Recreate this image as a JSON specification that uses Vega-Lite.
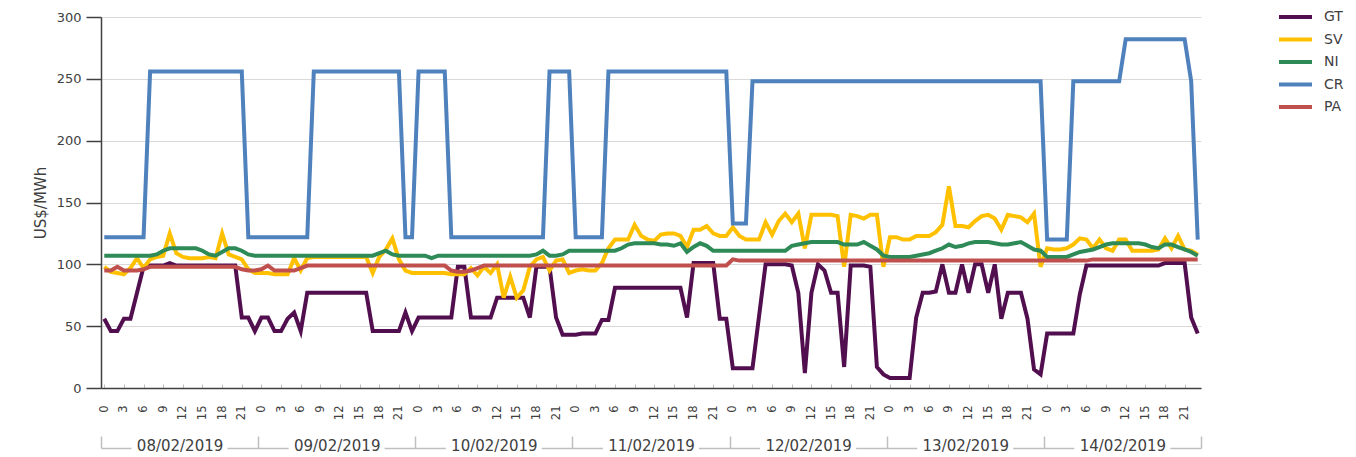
{
"$schema": "https://vega.github.io/schema/vega-lite/v6.json",
"width": 1100, "height": 371,
"autosize": {"type": "none"},
"padding": {"left": 101, "top": 17, "right": 155, "bottom": 69},
"background": "white",
"config": {"font": "DejaVu Sans", "view": {"stroke": null}},
"data": {"values": [
{"i":0,"GT":56,"SV":98,"NI":107,"CR":122,"PA":95},
{"i":1,"GT":46,"SV":94,"NI":107,"CR":122,"PA":95},
{"i":2,"GT":46,"SV":93,"NI":107,"CR":122,"PA":98},
{"i":3,"GT":56,"SV":92,"NI":107,"CR":122,"PA":95},
{"i":4,"GT":56,"SV":97,"NI":107,"CR":122,"PA":95},
{"i":5,"GT":77,"SV":105,"NI":107,"CR":122,"PA":95},
{"i":6,"GT":98,"SV":97,"NI":107,"CR":122,"PA":96},
{"i":7,"GT":99,"SV":104,"NI":107,"CR":256,"PA":98},
{"i":8,"GT":99,"SV":106,"NI":108,"CR":256,"PA":98},
{"i":9,"GT":99,"SV":107,"NI":111,"CR":256,"PA":98},
{"i":10,"GT":101,"SV":125,"NI":113,"CR":256,"PA":98},
{"i":11,"GT":99,"SV":109,"NI":113,"CR":256,"PA":98},
{"i":12,"GT":99,"SV":106,"NI":113,"CR":256,"PA":98},
{"i":13,"GT":99,"SV":105,"NI":113,"CR":256,"PA":98},
{"i":14,"GT":99,"SV":105,"NI":113,"CR":256,"PA":98},
{"i":15,"GT":99,"SV":105,"NI":111,"CR":256,"PA":98},
{"i":16,"GT":99,"SV":106,"NI":108,"CR":256,"PA":98},
{"i":17,"GT":99,"SV":105,"NI":107,"CR":256,"PA":98},
{"i":18,"GT":99,"SV":125,"NI":110,"CR":256,"PA":98},
{"i":19,"GT":99,"SV":108,"NI":113,"CR":256,"PA":98},
{"i":20,"GT":99,"SV":106,"NI":113,"CR":256,"PA":98},
{"i":21,"GT":57,"SV":104,"NI":111,"CR":256,"PA":96},
{"i":22,"GT":57,"SV":96,"NI":108,"CR":122,"PA":95},
{"i":23,"GT":46,"SV":93,"NI":107,"CR":122,"PA":95},
{"i":24,"GT":57,"SV":93,"NI":107,"CR":122,"PA":96},
{"i":25,"GT":57,"SV":93,"NI":107,"CR":122,"PA":99},
{"i":26,"GT":46,"SV":92,"NI":107,"CR":122,"PA":95},
{"i":27,"GT":46,"SV":92,"NI":107,"CR":122,"PA":95},
{"i":28,"GT":56,"SV":92,"NI":107,"CR":122,"PA":95},
{"i":29,"GT":61,"SV":105,"NI":107,"CR":122,"PA":95},
{"i":30,"GT":46,"SV":95,"NI":107,"CR":122,"PA":97},
{"i":31,"GT":77,"SV":105,"NI":107,"CR":122,"PA":99},
{"i":32,"GT":77,"SV":106,"NI":107,"CR":256,"PA":99},
{"i":33,"GT":77,"SV":106,"NI":107,"CR":256,"PA":99},
{"i":34,"GT":77,"SV":106,"NI":107,"CR":256,"PA":99},
{"i":35,"GT":77,"SV":106,"NI":107,"CR":256,"PA":99},
{"i":36,"GT":77,"SV":106,"NI":107,"CR":256,"PA":99},
{"i":37,"GT":77,"SV":106,"NI":107,"CR":256,"PA":99},
{"i":38,"GT":77,"SV":106,"NI":107,"CR":256,"PA":99},
{"i":39,"GT":77,"SV":106,"NI":107,"CR":256,"PA":99},
{"i":40,"GT":77,"SV":106,"NI":107,"CR":256,"PA":99},
{"i":41,"GT":46,"SV":93,"NI":107,"CR":256,"PA":99},
{"i":42,"GT":46,"SV":106,"NI":109,"CR":256,"PA":99},
{"i":43,"GT":46,"SV":112,"NI":111,"CR":256,"PA":99},
{"i":44,"GT":46,"SV":121,"NI":108,"CR":256,"PA":99},
{"i":45,"GT":46,"SV":104,"NI":107,"CR":256,"PA":99},
{"i":46,"GT":61,"SV":95,"NI":107,"CR":122,"PA":99},
{"i":47,"GT":46,"SV":93,"NI":107,"CR":122,"PA":99},
{"i":48,"GT":57,"SV":93,"NI":107,"CR":256,"PA":99},
{"i":49,"GT":57,"SV":93,"NI":107,"CR":256,"PA":99},
{"i":50,"GT":57,"SV":93,"NI":105,"CR":256,"PA":99},
{"i":51,"GT":57,"SV":93,"NI":107,"CR":256,"PA":99},
{"i":52,"GT":57,"SV":93,"NI":107,"CR":256,"PA":99},
{"i":53,"GT":57,"SV":92,"NI":107,"CR":122,"PA":95},
{"i":54,"GT":98,"SV":92,"NI":107,"CR":122,"PA":94},
{"i":55,"GT":98,"SV":92,"NI":107,"CR":122,"PA":94},
{"i":56,"GT":57,"SV":97,"NI":107,"CR":122,"PA":95},
{"i":57,"GT":57,"SV":91,"NI":107,"CR":122,"PA":97},
{"i":58,"GT":57,"SV":98,"NI":107,"CR":122,"PA":99},
{"i":59,"GT":57,"SV":93,"NI":107,"CR":122,"PA":99},
{"i":60,"GT":73,"SV":100,"NI":107,"CR":122,"PA":99},
{"i":61,"GT":73,"SV":73,"NI":107,"CR":122,"PA":99},
{"i":62,"GT":73,"SV":90,"NI":107,"CR":122,"PA":99},
{"i":63,"GT":73,"SV":73,"NI":107,"CR":122,"PA":99},
{"i":64,"GT":73,"SV":79,"NI":107,"CR":122,"PA":99},
{"i":65,"GT":57,"SV":98,"NI":107,"CR":122,"PA":99},
{"i":66,"GT":98,"SV":104,"NI":108,"CR":122,"PA":99},
{"i":67,"GT":98,"SV":106,"NI":111,"CR":122,"PA":99},
{"i":68,"GT":98,"SV":95,"NI":107,"CR":256,"PA":99},
{"i":69,"GT":57,"SV":103,"NI":107,"CR":256,"PA":99},
{"i":70,"GT":43,"SV":104,"NI":108,"CR":256,"PA":99},
{"i":71,"GT":43,"SV":93,"NI":111,"CR":256,"PA":99},
{"i":72,"GT":43,"SV":95,"NI":111,"CR":122,"PA":99},
{"i":73,"GT":44,"SV":96,"NI":111,"CR":122,"PA":99},
{"i":74,"GT":44,"SV":95,"NI":111,"CR":122,"PA":99},
{"i":75,"GT":44,"SV":95,"NI":111,"CR":122,"PA":99},
{"i":76,"GT":55,"SV":101,"NI":111,"CR":122,"PA":99},
{"i":77,"GT":55,"SV":113,"NI":111,"CR":256,"PA":99},
{"i":78,"GT":81,"SV":120,"NI":111,"CR":256,"PA":99},
{"i":79,"GT":81,"SV":120,"NI":113,"CR":256,"PA":99},
{"i":80,"GT":81,"SV":120,"NI":116,"CR":256,"PA":99},
{"i":81,"GT":81,"SV":132,"NI":117,"CR":256,"PA":99},
{"i":82,"GT":81,"SV":123,"NI":117,"CR":256,"PA":99},
{"i":83,"GT":81,"SV":120,"NI":117,"CR":256,"PA":99},
{"i":84,"GT":81,"SV":119,"NI":117,"CR":256,"PA":99},
{"i":85,"GT":81,"SV":124,"NI":116,"CR":256,"PA":99},
{"i":86,"GT":81,"SV":125,"NI":116,"CR":256,"PA":99},
{"i":87,"GT":81,"SV":125,"NI":115,"CR":256,"PA":99},
{"i":88,"GT":81,"SV":123,"NI":117,"CR":256,"PA":99},
{"i":89,"GT":57,"SV":114,"NI":110,"CR":256,"PA":99},
{"i":90,"GT":101,"SV":128,"NI":114,"CR":256,"PA":99},
{"i":91,"GT":101,"SV":128,"NI":117,"CR":256,"PA":99},
{"i":92,"GT":101,"SV":131,"NI":115,"CR":256,"PA":99},
{"i":93,"GT":101,"SV":125,"NI":111,"CR":256,"PA":99},
{"i":94,"GT":56,"SV":123,"NI":111,"CR":256,"PA":99},
{"i":95,"GT":56,"SV":123,"NI":111,"CR":256,"PA":99},
{"i":96,"GT":16,"SV":130,"NI":111,"CR":133,"PA":104},
{"i":97,"GT":16,"SV":123,"NI":111,"CR":133,"PA":103},
{"i":98,"GT":16,"SV":120,"NI":111,"CR":133,"PA":103},
{"i":99,"GT":16,"SV":120,"NI":111,"CR":248,"PA":103},
{"i":100,"GT":58,"SV":120,"NI":111,"CR":248,"PA":103},
{"i":101,"GT":100,"SV":134,"NI":111,"CR":248,"PA":103},
{"i":102,"GT":100,"SV":124,"NI":111,"CR":248,"PA":103},
{"i":103,"GT":100,"SV":135,"NI":111,"CR":248,"PA":103},
{"i":104,"GT":100,"SV":141,"NI":111,"CR":248,"PA":103},
{"i":105,"GT":99,"SV":134,"NI":115,"CR":248,"PA":103},
{"i":106,"GT":77,"SV":141,"NI":116,"CR":248,"PA":103},
{"i":107,"GT":12,"SV":113,"NI":117,"CR":248,"PA":103},
{"i":108,"GT":77,"SV":140,"NI":118,"CR":248,"PA":103},
{"i":109,"GT":100,"SV":140,"NI":118,"CR":248,"PA":103},
{"i":110,"GT":95,"SV":140,"NI":118,"CR":248,"PA":103},
{"i":111,"GT":77,"SV":140,"NI":118,"CR":248,"PA":103},
{"i":112,"GT":77,"SV":139,"NI":118,"CR":248,"PA":103},
{"i":113,"GT":17,"SV":98,"NI":116,"CR":248,"PA":103},
{"i":114,"GT":99,"SV":140,"NI":116,"CR":248,"PA":103},
{"i":115,"GT":99,"SV":139,"NI":116,"CR":248,"PA":103},
{"i":116,"GT":99,"SV":137,"NI":118,"CR":248,"PA":103},
{"i":117,"GT":98,"SV":140,"NI":115,"CR":248,"PA":103},
{"i":118,"GT":17,"SV":140,"NI":112,"CR":248,"PA":103},
{"i":119,"GT":11,"SV":98,"NI":107,"CR":248,"PA":103},
{"i":120,"GT":8,"SV":122,"NI":106,"CR":248,"PA":103},
{"i":121,"GT":8,"SV":122,"NI":106,"CR":248,"PA":103},
{"i":122,"GT":8,"SV":120,"NI":106,"CR":248,"PA":103},
{"i":123,"GT":8,"SV":120,"NI":106,"CR":248,"PA":103},
{"i":124,"GT":57,"SV":123,"NI":107,"CR":248,"PA":103},
{"i":125,"GT":77,"SV":123,"NI":108,"CR":248,"PA":103},
{"i":126,"GT":77,"SV":123,"NI":109,"CR":248,"PA":103},
{"i":127,"GT":78,"SV":126,"NI":111,"CR":248,"PA":103},
{"i":128,"GT":100,"SV":132,"NI":113,"CR":248,"PA":103},
{"i":129,"GT":77,"SV":163,"NI":116,"CR":248,"PA":103},
{"i":130,"GT":77,"SV":131,"NI":114,"CR":248,"PA":103},
{"i":131,"GT":100,"SV":131,"NI":115,"CR":248,"PA":103},
{"i":132,"GT":77,"SV":130,"NI":117,"CR":248,"PA":103},
{"i":133,"GT":100,"SV":135,"NI":118,"CR":248,"PA":103},
{"i":134,"GT":100,"SV":139,"NI":118,"CR":248,"PA":103},
{"i":135,"GT":77,"SV":140,"NI":118,"CR":248,"PA":103},
{"i":136,"GT":100,"SV":137,"NI":117,"CR":248,"PA":103},
{"i":137,"GT":56,"SV":128,"NI":116,"CR":248,"PA":103},
{"i":138,"GT":77,"SV":140,"NI":116,"CR":248,"PA":103},
{"i":139,"GT":77,"SV":139,"NI":117,"CR":248,"PA":103},
{"i":140,"GT":77,"SV":138,"NI":118,"CR":248,"PA":103},
{"i":141,"GT":56,"SV":134,"NI":115,"CR":248,"PA":103},
{"i":142,"GT":15,"SV":141,"NI":112,"CR":248,"PA":103},
{"i":143,"GT":11,"SV":98,"NI":111,"CR":248,"PA":103},
{"i":144,"GT":44,"SV":113,"NI":106,"CR":120,"PA":103},
{"i":145,"GT":44,"SV":112,"NI":106,"CR":120,"PA":103},
{"i":146,"GT":44,"SV":112,"NI":106,"CR":120,"PA":103},
{"i":147,"GT":44,"SV":113,"NI":106,"CR":120,"PA":103},
{"i":148,"GT":44,"SV":116,"NI":108,"CR":248,"PA":103},
{"i":149,"GT":76,"SV":121,"NI":110,"CR":248,"PA":103},
{"i":150,"GT":99,"SV":120,"NI":111,"CR":248,"PA":103},
{"i":151,"GT":99,"SV":113,"NI":112,"CR":248,"PA":104},
{"i":152,"GT":99,"SV":120,"NI":114,"CR":248,"PA":104},
{"i":153,"GT":99,"SV":113,"NI":116,"CR":248,"PA":104},
{"i":154,"GT":99,"SV":111,"NI":117,"CR":248,"PA":104},
{"i":155,"GT":99,"SV":120,"NI":117,"CR":248,"PA":104},
{"i":156,"GT":99,"SV":120,"NI":117,"CR":282,"PA":104},
{"i":157,"GT":99,"SV":111,"NI":117,"CR":282,"PA":104},
{"i":158,"GT":99,"SV":111,"NI":117,"CR":282,"PA":104},
{"i":159,"GT":99,"SV":111,"NI":116,"CR":282,"PA":104},
{"i":160,"GT":99,"SV":111,"NI":114,"CR":282,"PA":104},
{"i":161,"GT":99,"SV":112,"NI":113,"CR":282,"PA":104},
{"i":162,"GT":101,"SV":121,"NI":116,"CR":282,"PA":104},
{"i":163,"GT":101,"SV":113,"NI":116,"CR":282,"PA":104},
{"i":164,"GT":101,"SV":123,"NI":114,"CR":282,"PA":104},
{"i":165,"GT":101,"SV":112,"NI":112,"CR":282,"PA":104},
{"i":166,"GT":57,"SV":111,"NI":110,"CR":248,"PA":104},
{"i":167,"GT":44,"SV":108,"NI":107,"CR":120,"PA":104}
]},
"layer": [
{
"transform": [{"fold": ["GT","SV","NI","CR","PA"], "as": ["serie","valor"]}],
"mark": {"type": "line", "strokeWidth": 4},
"encoding": {
"x": {"field": "i", "type": "quantitative",
 "scale": {"domain": [-0.5, 167.5], "nice": false, "zero": false},
 "axis": {"orient": "bottom", "title": null, "grid": false,
  "values": [0,3,6,9,12,15,18,21,24,27,30,33,36,39,42,45,48,51,54,57,60,63,66,69,72,75,78,81,84,87,90,93,96,99,102,105,108,111,114,117,120,123,126,129,132,135,138,141,144,147,150,153,156,159,162,165],
  "labelExpr": "datum.value % 24", "labelAngle": 270, "labelAlign": "right", "labelBaseline": "middle",
  "labelFont": "DejaVu Sans", "labelFontSize": 11.5, "labelColor": "#404040", "labelPadding": 21,
  "labelFlush": false, "labelOverlap": false, "labelBound": false,
  "tickSize": -4, "tickColor": "#bfbfbf", "tickWidth": 1,
  "domainColor": "#404040", "domainWidth": 1.5}},
"y": {"field": "valor", "type": "quantitative",
 "scale": {"domain": [0, 300], "nice": false},
 "axis": {"values": [0,50,100,150,200,250,300], "title": "US$/MWh",
  "titleFont": "DejaVu Sans", "titleFontSize": 15, "titleFontWeight": "normal", "titleColor": "#404040", "titlePadding": 8,
  "labelFont": "DejaVu Sans", "labelFontSize": 13, "labelColor": "#404040", "labelPadding": 5,
  "tickSize": 15, "tickColor": "#404040", "tickWidth": 1.5,
  "domainColor": "#404040", "domainWidth": 1.5,
  "grid": true, "gridColor": "#d9d9d9", "gridWidth": 1}},
"color": {"field": "serie", "type": "nominal",
 "scale": {"domain": ["GT","SV","NI","CR","PA"], "range": ["#520f4f","#ffc000","#2e8b57","#4f81bd","#c0504d"]},
 "legend": {"orient": "none", "legendX": 1176, "legendY": -11, "title": null, "direction": "vertical",
  "symbolType": "stroke", "symbolSize": 1089, "symbolStrokeWidth": 4,
  "labelFont": "DejaVu Sans", "labelFontSize": 14, "labelColor": "#404040", "labelOffset": 10,
  "clipHeight": 22, "rowPadding": 0.5}}
}
},
{
"mark": {"type": "tick", "opacity": 0},
"encoding": {
"x": {"field": "i", "type": "quantitative",
 "axis": {"orient": "bottom", "offset": 60, "title": null, "grid": false,
  "values": [-0.5, 23.5, 47.5, 71.5, 95.5, 119.5, 143.5, 167.5],
  "labelExpr": "['08/02/2019','09/02/2019','10/02/2019','11/02/2019','12/02/2019','13/02/2019','14/02/2019',''][round((datum.value + 0.5) / 24)]",
  "labelOffset": 78.57, "labelAngle": 0, "labelAlign": "center", "labelBaseline": "middle", "labelPadding": 9,
  "labelFont": "DejaVu Sans", "labelFontSize": 15, "labelColor": "#404040",
  "labelFlush": false, "labelOverlap": false, "labelBound": false,
  "tickSize": -12, "tickColor": "#bfbfbf", "tickWidth": 1.5,
  "domainColor": "#bfbfbf", "domainWidth": 1.5, "domainDash": [30, 96, 31.14, 0]}}
}
}
],
"resolve": {"axis": {"x": "independent"}}
}
